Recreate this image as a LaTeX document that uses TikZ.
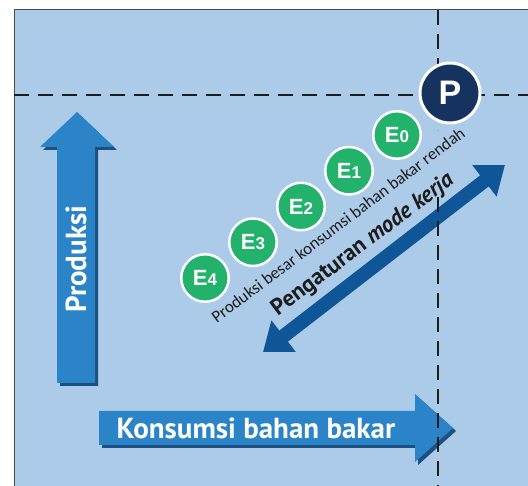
\documentclass[tikz,border=0pt]{standalone}
\usepackage{fontspec}
\setmainfont{PT Sans}
\newfontfamily\arialf{Liberation Sans}
\newfontfamily\lightf{Carlito}
\usetikzlibrary{arrows.meta}
\definecolor{bgblue}{HTML}{ABCBE9}
\definecolor{arrowblue}{HTML}{2A84C7}
\definecolor{shadowblue}{HTML}{1D4F80}
\definecolor{darkarrow}{HTML}{0E5698}
\definecolor{navy}{HTML}{16335F}
\definecolor{egreen}{HTML}{23B26B}
\definecolor{ink}{HTML}{1C1C1C}
\newcommand{\elab}[1]{{\fontsize{22}{22}\selectfont E}{\fontsize{17}{17}\selectfont #1}}
\begin{document}
\begin{tikzpicture}[x=1pt,y=-1pt,
  ecirc/.style={circle, fill=egreen, draw=white, line width=2.5pt, minimum size=47.5pt, inner sep=0pt, text=white, font=\arialf\bfseries},
  pcirc/.style={circle, fill=navy, draw=white, line width=3pt, minimum size=60pt, inner sep=0pt, text=white, font=\arialf\bfseries\fontsize{34}{34}\selectfont},
  dashline/.style={draw=ink, line width=2.5pt, dash pattern=on 15pt off 9pt},
  blockarrow/.style={fill=arrowblue},
  blockshadow/.style={fill=shadowblue},
  labelwhite/.style={text=white, font=\bfseries\fontsize{29}{29}\selectfont, inner sep=0pt}
]
\useasboundingbox (0,0) rectangle (528,486);
\fill[white] (0,0) rectangle (528,486);
\fill[bgblue] (14,10) rectangle (528,486);
\draw[gray!60!black, line width=1pt] (14,486) -- (14,10) -- (528,10);

% Produksi arrow
\fill[blockshadow, shift={(3,3)}] (57,383) -- (57,147) -- (40,147) -- (77,112) -- (114,147) -- (95,147) -- (95,383) -- cycle;
\fill[blockarrow] (57,383) -- (57,147) -- (40,147) -- (77,112) -- (114,147) -- (95,147) -- (95,383) -- cycle;
\node[labelwhite, rotate=90] (prodtext) at (76,259) {Produksi};

% Konsumsi arrow
\fill[blockshadow, shift={(3,3)}] (99,411) -- (415,411) -- (415,394) -- (453,428) -- (415,462) -- (415,445) -- (99,445) -- cycle;
\fill[blockarrow] (99,411) -- (415,411) -- (415,394) -- (453,428) -- (415,462) -- (415,445) -- (99,445) -- cycle;
\node[labelwhite] (konstext) at (256,428) {Konsumsi bahan bakar};

% double arrow
\coordinate (dl) at (263,352);
\coordinate (du) at (505,165);
\draw[darkarrow, line width=14pt, {Triangle[length=26pt,width=38pt]}-{Triangle[length=26pt,width=38pt]}] (dl) -- (du);

% dashed guide lines
\draw[dashline] (14,95) -- (528,95);
\draw[dashline] (438,10) -- (438,130);
\draw[dashline] (438,197) -- (438,486);

% circles
\node[ecirc] (e4) at (205,278) {\elab{4}};
\node[ecirc] (e3) at (253,242.25) {\elab{3}};
\node[ecirc] (e2) at (301,206.5) {\elab{2}};
\node[ecirc] (e1) at (349,170.75) {\elab{1}};
\node[ecirc] (e0) at (397,135) {\elab{0}};
\node[pcirc] (p) at (450,93) {P};

% rotated texts
\node[rotate=37, text=ink, font=\lightf\fontsize{17}{17}\selectfont, inner sep=0pt] (sub) at (338,225) {Produksi besar konsumsi bahan bakar rendah};
\node[rotate=37, text=ink, font=\bfseries\fontsize{23}{23}\selectfont, inner sep=0pt] (mode) at (363,245) {Pengaturan \textit{mode kerja}};
\end{tikzpicture}
\end{document}
